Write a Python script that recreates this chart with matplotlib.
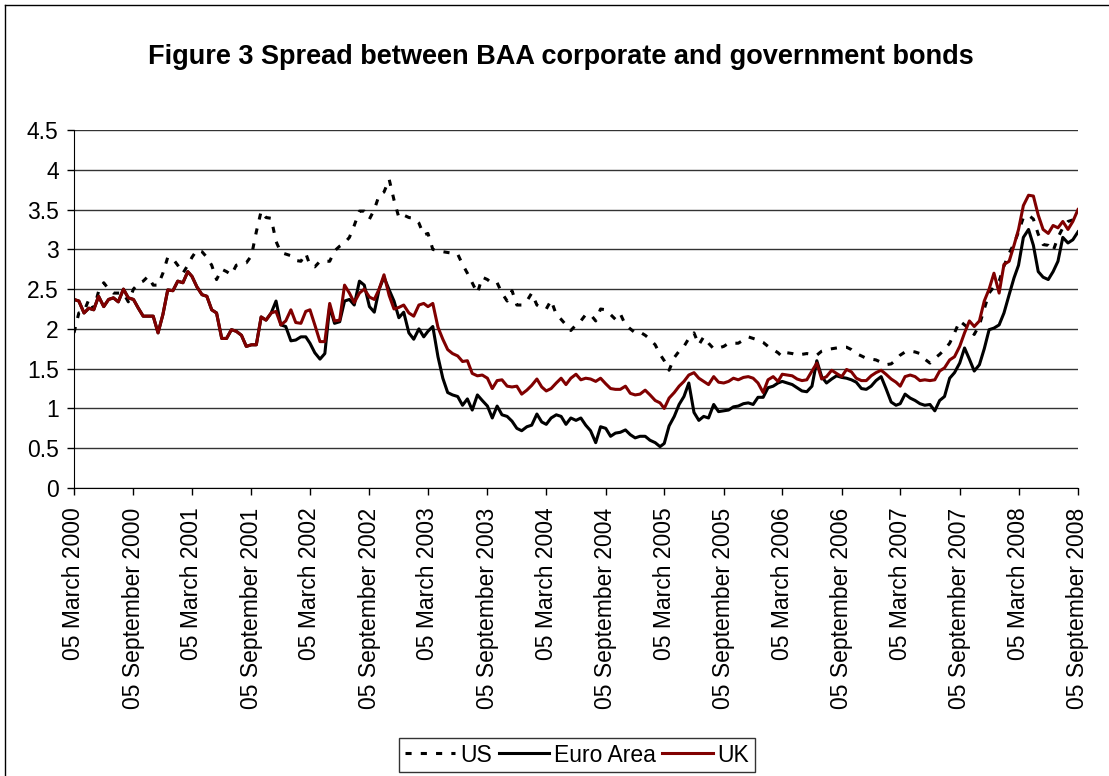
import numpy as np
import pandas as pd
import matplotlib
matplotlib.use("Agg")
import matplotlib.pyplot as plt
import matplotlib.dates as mdates
from matplotlib.lines import Line2D
from matplotlib.ticker import FuncFormatter

# half-monthly observations, 05 March 2000 .. 05 September 2008
months = pd.date_range("2000-03-01", "2008-09-01", freq="MS")
dates = [m + pd.Timedelta(days=d) for m in months for d in (4, 19)][:205]

us = [
    1.95, 2.20, 2.22, 2.37, 2.25, 2.47, 2.58, 2.50, 2.45, 2.45,
    2.45, 2.34, 2.50, 2.57, 2.60, 2.66, 2.55, 2.55, 2.70, 2.90,
    2.88, 2.80, 2.70, 2.80, 2.90, 2.99, 2.97, 2.90, 2.80, 2.62,
    2.75, 2.72, 2.68, 2.80, 2.82, 2.83, 2.92, 3.22, 3.48, 3.40,
    3.39, 3.10, 2.96, 2.94, 2.92, 2.86, 2.85, 2.95, 2.80, 2.78,
    2.85, 2.85, 2.85, 2.98, 3.04, 3.08, 3.15, 3.30, 3.48, 3.48,
    3.38, 3.50, 3.68, 3.72, 3.88, 3.62, 3.40, 3.43, 3.40, 3.39,
    3.33, 3.18, 3.20, 3.00, 2.98, 2.97, 2.96, 2.95, 2.94, 2.81,
    2.70, 2.58, 2.45, 2.65, 2.62, 2.57, 2.58, 2.45, 2.35, 2.48,
    2.30, 2.30, 2.35, 2.45, 2.30, 2.26, 2.25, 2.36, 2.18, 2.12,
    2.05, 1.98, 2.05, 2.10, 2.18, 2.18, 2.10, 2.25, 2.24, 2.18,
    2.12, 2.19, 2.05, 2.00, 1.95, 1.96, 1.92, 1.87, 1.80, 1.68,
    1.60, 1.48, 1.64, 1.72, 1.78, 1.88, 1.95, 1.80, 1.90, 1.82,
    1.75, 1.76, 1.78, 1.82, 1.82, 1.82, 1.86, 1.90, 1.88, 1.86,
    1.83, 1.78, 1.74, 1.70, 1.65, 1.70, 1.69, 1.67, 1.68, 1.69,
    1.68, 1.67, 1.72, 1.74, 1.75, 1.76, 1.77, 1.77, 1.74, 1.69,
    1.66, 1.63, 1.62, 1.61, 1.58, 1.55, 1.56, 1.61, 1.67, 1.71,
    1.72, 1.71, 1.69, 1.62, 1.57, 1.63, 1.68, 1.74, 1.82, 1.95,
    2.10, 2.05, 2.00, 1.93, 2.05, 2.25, 2.45, 2.53, 2.60, 2.79,
    2.95, 3.07, 3.22, 3.40, 3.43, 3.38, 3.19, 3.06, 3.05, 2.98,
    3.15, 3.27, 3.35, 3.37, 3.41,
]

euro = [
    2.37, 2.35, 2.20, 2.26, 2.24, 2.41, 2.28, 2.37, 2.39, 2.34,
    2.50, 2.39, 2.37, 2.26, 2.16, 2.16, 2.16, 1.95, 2.18, 2.49,
    2.48, 2.60, 2.58, 2.72, 2.66, 2.53, 2.43, 2.41, 2.24, 2.20,
    1.88, 1.88, 1.99, 1.97, 1.92, 1.78, 1.80, 1.80, 2.15, 2.11,
    2.20, 2.35, 2.05, 2.03, 1.85, 1.86, 1.90, 1.90, 1.82, 1.70,
    1.62, 1.69, 2.28, 2.07, 2.09, 2.35, 2.37, 2.30, 2.60, 2.55,
    2.28, 2.21, 2.50, 2.65, 2.49, 2.35, 2.14, 2.21, 1.95, 1.87,
    2.00, 1.90, 1.97, 2.03, 1.65, 1.38, 1.20, 1.17, 1.15, 1.04,
    1.12, 0.98, 1.17, 1.10, 1.03, 0.88, 1.03, 0.92, 0.90, 0.84,
    0.75, 0.72, 0.77, 0.79, 0.93, 0.83, 0.80, 0.88, 0.92, 0.90,
    0.80, 0.88, 0.85, 0.88, 0.79, 0.72, 0.57, 0.77, 0.75, 0.65,
    0.69, 0.70, 0.73, 0.67, 0.63, 0.65, 0.65, 0.60, 0.57, 0.52,
    0.56, 0.78, 0.90, 1.05, 1.15, 1.32, 0.95, 0.85, 0.90, 0.88,
    1.05, 0.96, 0.97, 0.98, 1.02, 1.03, 1.06, 1.07, 1.05, 1.14,
    1.14, 1.26, 1.28, 1.32, 1.34, 1.32, 1.30, 1.26, 1.22, 1.21,
    1.28, 1.60, 1.40, 1.32, 1.37, 1.41, 1.39, 1.38, 1.36, 1.33,
    1.25, 1.24, 1.28, 1.35, 1.40, 1.25, 1.08, 1.04, 1.06, 1.18,
    1.13, 1.10, 1.06, 1.04, 1.05, 0.97, 1.10, 1.15, 1.38, 1.45,
    1.57, 1.76, 1.62, 1.47, 1.55, 1.75, 1.99, 2.01, 2.05, 2.20,
    2.43, 2.64, 2.80, 3.15, 3.25, 3.05, 2.72, 2.65, 2.62, 2.72,
    2.85, 3.15, 3.08, 3.12, 3.22,
]

uk = [
    2.37, 2.35, 2.20, 2.26, 2.24, 2.41, 2.28, 2.37, 2.39, 2.34,
    2.50, 2.39, 2.37, 2.26, 2.16, 2.16, 2.16, 1.95, 2.18, 2.49,
    2.48, 2.60, 2.58, 2.72, 2.66, 2.53, 2.43, 2.41, 2.24, 2.20,
    1.88, 1.88, 1.99, 1.97, 1.92, 1.78, 1.80, 1.80, 2.15, 2.11,
    2.20, 2.22, 2.05, 2.10, 2.24, 2.08, 2.07, 2.22, 2.24, 2.05,
    1.84, 1.84, 2.32, 2.10, 2.11, 2.55, 2.45, 2.33, 2.45, 2.50,
    2.40, 2.37, 2.50, 2.68, 2.42, 2.25, 2.27, 2.30, 2.20, 2.16,
    2.30, 2.32, 2.28, 2.32, 2.02, 1.87, 1.74, 1.69, 1.66, 1.59,
    1.60, 1.44, 1.41, 1.42, 1.38, 1.25, 1.35, 1.36, 1.28, 1.27,
    1.28, 1.18, 1.23, 1.29, 1.37, 1.27, 1.22, 1.25, 1.32, 1.38,
    1.30, 1.38, 1.43, 1.36, 1.38, 1.37, 1.34, 1.38, 1.31, 1.25,
    1.24, 1.24, 1.28, 1.19, 1.17, 1.18, 1.23, 1.17, 1.10, 1.07,
    1.00, 1.13, 1.20, 1.28, 1.34, 1.42, 1.45, 1.38, 1.34, 1.30,
    1.40, 1.33, 1.32, 1.34, 1.38, 1.36, 1.39, 1.40, 1.38, 1.32,
    1.20, 1.36, 1.40, 1.34, 1.43, 1.42, 1.41, 1.37, 1.35, 1.36,
    1.47, 1.57, 1.37, 1.40, 1.48, 1.44, 1.40, 1.49, 1.46, 1.38,
    1.35, 1.35, 1.41, 1.45, 1.48, 1.43, 1.37, 1.33, 1.28, 1.40,
    1.42, 1.40, 1.35, 1.36, 1.35, 1.36, 1.47, 1.51, 1.61, 1.65,
    1.78, 1.95, 2.10, 2.03, 2.10, 2.35, 2.50, 2.70, 2.45, 2.81,
    2.85, 3.05, 3.25, 3.55, 3.68, 3.67, 3.43, 3.25, 3.20, 3.30,
    3.27, 3.35, 3.25, 3.35, 3.50,
]

tick_dates = [m + pd.Timedelta(days=4) for m in months[::6]]

plt.rcParams["font.family"] = ["Liberation Sans", "DejaVu Sans"]

W, H = 1109, 776
fig = plt.figure(figsize=(W / 100, H / 100), dpi=100)
ax = fig.add_axes([74 / W, 1 - 488 / H, (1078 - 74) / W, (488 - 130) / H])

ax.plot(dates, us, color="black", lw=2.2, linestyle=(0, (2, 3)), label="US")
ax.plot(dates, euro, color="black", lw=2.2, label="Euro Area")
ax.plot(dates, uk, color="#800000", lw=2.2, label="UK")

ax.set_xlim(dates[0], dates[-1])
ax.set_ylim(0, 4.5)
ax.set_yticks(np.arange(0, 4.51, 0.5))
ax.yaxis.set_major_formatter(FuncFormatter(lambda v, p: f"{v:g}"))
ax.set_xticks(tick_dates)
ax.xaxis.set_major_formatter(mdates.DateFormatter("%d %B %Y"))
plt.setp(ax.get_xticklabels(), rotation=90, ha="center", va="top")

ax.set_axisbelow(True)
ax.grid(axis="y", color="#333333", lw=1)
ax.spines["top"].set_visible(False)
ax.spines["right"].set_visible(False)
ax.tick_params(labelsize=16.5, length=5, width=1, color="black")
ax.tick_params(axis="x", pad=9)
ax.tick_params(axis="y", pad=6)

fig.text(0.506, 1 - 57 / H, "Figure 3 Spread between BAA corporate and government bonds",
         fontsize=19.5, weight="bold", ha="center", va="center")

leg = fig.legend(loc="center", bbox_to_anchor=(577 / W, 1 - 755 / H), ncol=3,
                 frameon=True, fancybox=False, edgecolor="black", fontsize=16.5,
                 handlelength=2.2, handletextpad=0.2, columnspacing=0.3,
                 borderpad=0.25, borderaxespad=0)
leg.get_frame().set_linewidth(1)

# chart area border (cut off on the right and bottom)
fig.add_artist(Line2D([5 / W, 5 / W], [0, 1 - 5 / H], transform=fig.transFigure, color="black", lw=1))
fig.add_artist(Line2D([5 / W, 1], [1 - 5 / H, 1 - 5 / H], transform=fig.transFigure, color="black", lw=1))

fig.savefig("out.png", dpi=100)
